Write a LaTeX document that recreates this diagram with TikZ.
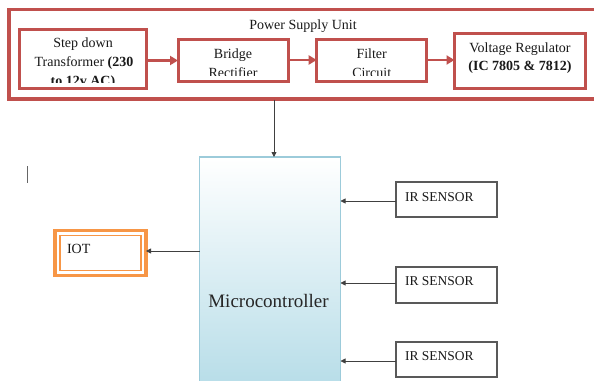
\documentclass[tikz,border=0pt]{standalone}
\usepackage{fontspec}
\setmainfont{Liberation Serif}
\usetikzlibrary{arrows.meta}
\definecolor{psred}{HTML}{C0504D}
\definecolor{iotor}{HTML}{F79646}
\definecolor{mcblue}{HTML}{B7DDE8}
\definecolor{mcedge}{HTML}{9CCBDA}
\begin{document}
\begin{tikzpicture}[x=1pt,y=-1pt,
  every node/.style={inner sep=0pt, outer sep=0pt},
  psbox/.style={draw=psred, line width=3pt, rectangle},
  pstext/.style={font=\fontsize{14}{17}\selectfont, anchor=base, text=black!90},
  redarrow/.style={draw=psred, line width=2.4pt, -{Triangle[length=8pt,width=9pt]}},
  blkarrow/.style={draw=black!75, line width=0.8pt, -{Triangle[length=5pt,width=5pt]}},
  sensorbox/.style={draw=black!65, line width=1.1pt, rectangle, minimum width=101pt},
  smalltext/.style={font=\fontsize{13.5}{16}\selectfont, anchor=base west, text=black!90}
]
\useasboundingbox (0,0) rectangle (594,380);
\fill[white] (0,0) rectangle (594,380);

% Power supply unit
\node[psbox, line width=3.2pt, minimum width=591pt, minimum height=89.5pt] (psu) at (304.5,54.25) {};
\node[pstext] (psutitle) at (303,29) {Power Supply Unit};

\node[psbox, minimum width=127pt, minimum height=59pt] (step) at (82.5,58.5) {};
\node[psbox, minimum width=110pt, minimum height=42pt] (bridge) at (233,60) {};
\node[psbox, minimum width=110pt, minimum height=42pt] (filter) at (371.7,60) {};
\node[psbox, minimum width=131pt, minimum height=55pt] (reg) at (520,60.8) {};

\begin{scope}
  \clip (17,27) rectangle (148,82);
  \node[pstext] (stepa) at (83,47.6) {Step down};
  \node[pstext] (stepb) at (84,66) {Transformer \textbf{(230}};
  \node[pstext] (stepc) at (83,85) {\textbf{to 12v AC)}};
\end{scope}
\begin{scope}
  \clip (177,38) rectangle (290,75.5);
  \node[pstext] (bra) at (233,58) {Bridge};
  \node[pstext] (brb) at (233,77.5) {Rectifier};
\end{scope}
\begin{scope}
  \clip (315,38) rectangle (428,75.5);
  \node[pstext] (fia) at (371.7,58) {Filter};
  \node[pstext] (fib) at (371.7,77.5) {Circuit};
\end{scope}
\node[pstext] (rega) at (520,52) {Voltage Regulator};
\node[pstext] (regb) at (520,70.5) {\textbf{(IC 7805 \& 7812)}};

\draw[redarrow] (step.east |- 0,60.5) -- (bridge.west |- 0,60.5);
\draw[redarrow] (bridge.east) -- (filter.west);
\draw[redarrow] (filter.east) -- (reg.west |- filter.east);

% Microcontroller
\node[rectangle, draw=mcedge, line width=1.2pt, top color=white, bottom color=mcblue,
      minimum width=141pt, minimum height=229pt] (mc) at (270,271.5) {};
\node[font=\fontsize{19}{22}\selectfont, anchor=base, text=black!85] (mctext) at (268.5,307) {Microcontroller};

\coordinate (psout) at (274,99.5);
\draw[blkarrow] (psout) -- (psout |- mc.north);

% cursor mark
\draw[black!60, line width=1pt] (27,166) -- (27,183);

% IOT
\node[rectangle, draw=iotor, line width=3.6pt, minimum width=91pt, minimum height=45pt] (iot) at (100.5,253) {};
\node[rectangle, draw=iotor, line width=1.1pt, minimum width=81pt, minimum height=35pt] (iotin) at (iot.center) {};
\node[smalltext, font=\fontsize{14}{16}\selectfont] (iottext) at (67,253) {IOT};
\draw[blkarrow] (mc.west |- 0,251) -- (iot.east |- 0,251);

% IR sensors
\node[sensorbox, minimum height=35pt] (s1) at (446.5,199.5) {};
\node[sensorbox, minimum height=36pt] (s2) at (446.5,285) {};
\node[sensorbox, minimum height=35pt] (s3) at (446.5,359.5) {};
\node[smalltext] (s1t) at (405,201) {IR SENSOR};
\node[smalltext] (s2t) at (405,285) {IR SENSOR};
\node[smalltext] (s3t) at (405,360) {IR SENSOR};
\draw[blkarrow] (s1.west |- 0,201) -- (mc.east |- 0,201);
\draw[blkarrow] (s2.west |- 0,283) -- (mc.east |- 0,283);
\draw[blkarrow] (s3.west |- 0,361) -- (mc.east |- 0,361);
\end{tikzpicture}
\end{document}
